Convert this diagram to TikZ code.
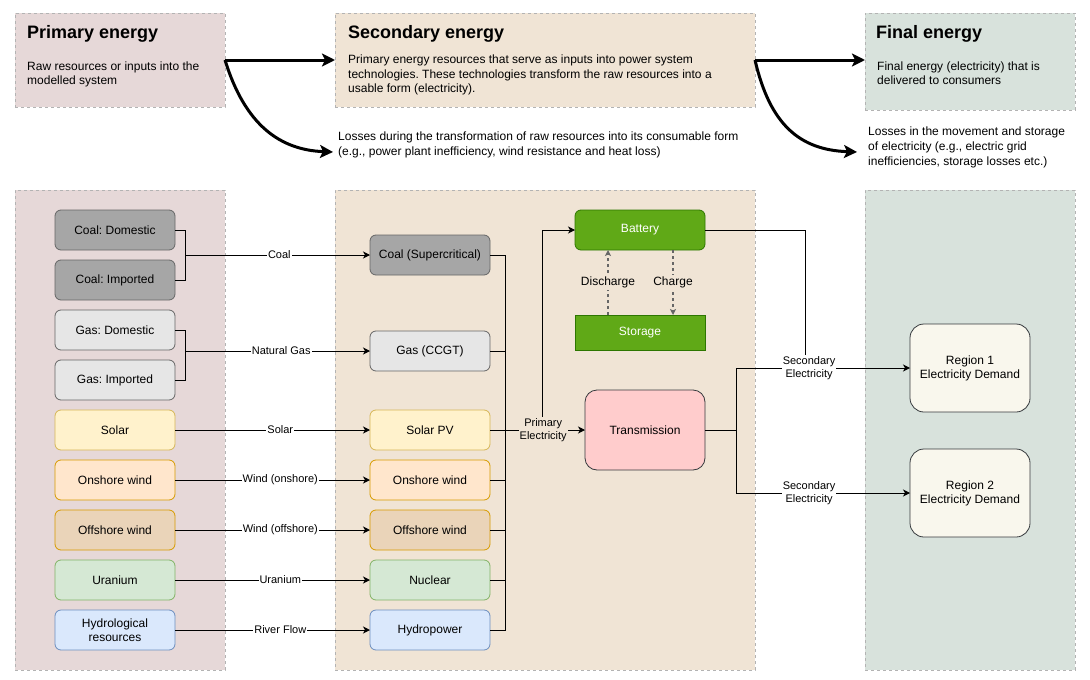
\documentclass[tikz,border=0pt]{standalone}
\usepackage{fontspec}
\setmainfont{Liberation Sans}
\frenchspacing
\usetikzlibrary{arrows.meta}
\definecolor{pribg}{HTML}{E6D8D8}
\definecolor{secbg}{HTML}{F0E4D5}
\definecolor{finbg}{HTML}{D8E2DC}
\definecolor{panelline}{HTML}{B3B3B3}
\definecolor{coalfill}{HTML}{A6A6A6}
\definecolor{grayline}{HTML}{666666}
\definecolor{gasfill}{HTML}{E6E6E6}
\definecolor{solarfill}{HTML}{FFF2CC}
\definecolor{solarline}{HTML}{D6B656}
\definecolor{onfill}{HTML}{FFE6CC}
\definecolor{windline}{HTML}{D79B00}
\definecolor{offfill}{HTML}{EAD4B9}
\definecolor{urfill}{HTML}{D5E8D4}
\definecolor{urline}{HTML}{82B366}
\definecolor{hyfill}{HTML}{DAE8FC}
\definecolor{hyline}{HTML}{6C8EBF}
\definecolor{batfill}{HTML}{60A917}
\definecolor{batline}{HTML}{2D7600}
\definecolor{trfill}{HTML}{FFCCCC}
\definecolor{darkline}{HTML}{36393D}
\definecolor{regfill}{HTML}{F9F7ED}
\begin{document}
\begin{tikzpicture}[x=1pt,y=-1pt,
  panel/.style={draw=panelline, dash pattern=on 3pt off 3pt, line width=0.8pt, anchor=north west, inner sep=0pt, outer sep=0pt},
  head/.style={anchor=base west, inner sep=0pt, font=\bfseries\fontsize{18}{21}\selectfont},
  body/.style={anchor=north west, inner sep=0pt, align=left, font=\fontsize{12}{14.5}\selectfont},
  box/.style={draw, rounded corners=6pt, minimum width=120pt, minimum height=40pt, inner sep=1pt, outer sep=0pt, line width=0.8pt, align=center, font=\fontsize{12}{14}\selectfont},
  coalbox/.style={box, fill=coalfill, draw=grayline},
  gasbox/.style={box, fill=gasfill, draw=grayline},
  solarbox/.style={box, fill=solarfill, draw=solarline},
  onbox/.style={box, fill=onfill, draw=windline},
  offbox/.style={box, fill=offfill, draw=windline},
  urbox/.style={box, fill=urfill, draw=urline},
  hybox/.style={box, fill=hyfill, draw=hyline},
  batbox/.style={box, fill=batfill, draw=batline, text=white, minimum width=130pt},
  elab/.style={inner sep=1pt, align=center, font=\fontsize{11}{13}\selectfont},
  big/.style={line width=3pt, -{Stealth[length=13pt,width=13pt,inset=3pt]}},
  wire/.style={line width=1pt},
  conn/.style={line width=1pt, -{Stealth[length=7pt,width=7pt,inset=2pt]}},
  chargeline/.style={line width=1.4pt, draw=grayline, dash pattern=on 3pt off 3pt, -{Stealth[length=6pt,width=6pt,inset=1.5pt]}}
]
\useasboundingbox[fill=white] (0,0) rectangle (1090,680);

% panels
\node[panel, fill=pribg, minimum width=210pt, minimum height=94pt] (pritop) at (15,13) {};
\node[panel, fill=secbg, minimum width=420pt, minimum height=94pt] (sectop) at (335,13) {};
\node[panel, fill=finbg, minimum width=210pt, minimum height=97pt] (fintop) at (865,13) {};
\node[panel, fill=pribg, minimum width=210pt, minimum height=480pt] (pribot) at (15,190) {};
\node[panel, fill=secbg, minimum width=420pt, minimum height=480pt] (secbot) at (335,190) {};
\node[panel, fill=finbg, minimum width=210pt, minimum height=480pt] (finbot) at (865,190) {};

% headers
\node[head] (h1) at (27,38) {Primary energy};
\node[body] (b1) at (27,61.5) {Raw resources or inputs into the\\modelled system};
\node[head] (h2) at (348,38) {Secondary energy};
\node[body] (b2) at (348,54.8) {Primary energy resources that serve as inputs into power system\\technologies. These technologies transform the raw resources into a\\usable form (electricity).};
\node[head] (h3) at (876,38) {Final energy};
\node[body] (b3) at (877,61.5) {Final energy (electricity) that is\\delivered to consumers};
\node[body] (l1) at (338,132) {Losses during the transformation of raw resources into its consumable form\\(e.g., power plant inefficiency, wind resistance and heat loss)};
\node[body, font=\fontsize{12}{15}\selectfont] (l2) at (868,126.5) {Losses in the movement and storage\\of electricity (e.g., electric grid\\inefficiencies, storage losses etc.)};

\coordinate (l1tip) at (333,152);
\coordinate (l2tip) at (857,152);
\draw[big] (pritop.east) -- (sectop.west);
\draw[big] (pritop.east) .. controls (245,125) and (280,150) .. (l1tip);
\draw[big] (sectop.east) -- (sectop.east -| fintop.west);
\draw[big] (sectop.east) .. controls (770,125) and (800,150) .. (l2tip);

% primary nodes
\node[coalbox] (cd) at (115,230) {Coal: Domestic};
\node[coalbox] (ci) at (115,280) {Coal: Imported};
\node[gasbox] (gd) at (115,330) {Gas: Domestic};
\node[gasbox] (gi) at (115,380) {Gas: Imported};
\node[solarbox] (so) at (115,430) {Solar};
\node[onbox] (ow) at (115,480) {Onshore wind};
\node[offbox] (fw) at (115,530) {Offshore wind};
\node[urbox] (ur) at (115,580) {Uranium};
\node[hybox] (hr) at (115,630) {Hydrological\\resources};

% secondary nodes
\node[coalbox] (cs) at (430,255) {Coal (Supercritical)};
\node[gasbox] (gc) at (430,351) {Gas (CCGT)};
\node[solarbox] (pv) at (430,430) {Solar PV};
\node[onbox] (on) at (430,480) {Onshore wind};
\node[offbox] (of) at (430,530) {Offshore wind};
\node[urbox] (nu) at (430,580) {Nuclear};
\node[hybox] (hy) at (430,630) {Hydropower};

\node[batbox] (bat) at (640,230) {Battery\vphantom{g}};
\node[batbox, rounded corners=0pt, minimum height=35pt] (st) at (640,332.5) {Storage};
\node[box, fill=trfill, draw=darkline, rounded corners=12pt, minimum height=80pt] (tr) at (645,430) {Transmission};

% final nodes
\node[box, fill=regfill, draw=darkline, rounded corners=14pt, minimum height=88pt] (r1) at (970,368) {Region 1\\Electricity Demand};
\node[box, fill=regfill, draw=darkline, rounded corners=14pt, minimum height=88pt] (r2) at (970,493) {Region 2\\Electricity Demand};

% primary -> secondary
\coordinate (cj) at (185,255);
\coordinate (gj) at (185,351);
\draw[wire] (cd.east) -| (cj);
\draw[wire] (ci.east) -| (cj);
\draw[conn] (cj) -- node[elab, fill=white, pos=0.51] {Coal} (cs.west);
\draw[wire] (gd.east) -| (gj);
\draw[wire] (gi.east) -| (gj);
\draw[conn] (gj) -- node[elab, fill=white, pos=0.52] {Natural Gas} (gc.west);
\draw[conn] (so.east) -- node[elab, fill=white, pos=0.54] {Solar} (pv.west);
\draw[conn] (ow.east) -- node[elab, fill=white, pos=0.54] {Wind (onshore)} (on.west);
\draw[conn] (fw.east) -- node[elab, fill=white, pos=0.54] {Wind (offshore)} (of.west);
\draw[conn] (ur.east) -- node[elab, fill=white, pos=0.54] {Uranium} (nu.west);
\draw[conn] (hr.east) -- node[elab, fill=white, pos=0.54] {River Flow} (hy.west);

% secondary bus
\coordinate (busT) at (505,255);
\coordinate (busB) at (505,630);
\draw[wire, line join=miter] (cs.east) -- (busT) -- (busB) -- (hy.east);
\foreach \n in {gc,on,of,nu} \draw[wire] (\n.east) -- (\n.east -| busT);
\coordinate (bj) at (542,430);
\draw[conn] (bj) |- (bat.west);
\draw[conn] (pv.east) -- node[elab, fill=secbg, pos=0.56] {Primary\\Electricity} (tr.west);

% battery / storage
\draw[chargeline] (st.north -| 608,0) -- node[fill=secbg, inner sep=1.5pt, font=\fontsize{12}{14}\selectfont] {Discharge} (bat.south -| 608,0);
\draw[chargeline] (bat.south -| 673,0) -- node[fill=secbg, inner sep=1.5pt, font=\fontsize{12}{14}\selectfont] {Charge} (st.north -| 673,0);

% to final
\coordinate (rj) at (805,368);
\draw[wire] (bat.east) -| (rj);
\coordinate (tj) at (736,430);
\draw[wire] (tr.east) -- (tj);
\draw[conn] (tj) |- node[elab, fill=white, pos=0.71] {Secondary\\Electricity} (r1.west);
\draw[conn] (tj) |- node[elab, fill=white, pos=0.71] {Secondary\\Electricity} (r2.west);
\end{tikzpicture}
\end{document}
